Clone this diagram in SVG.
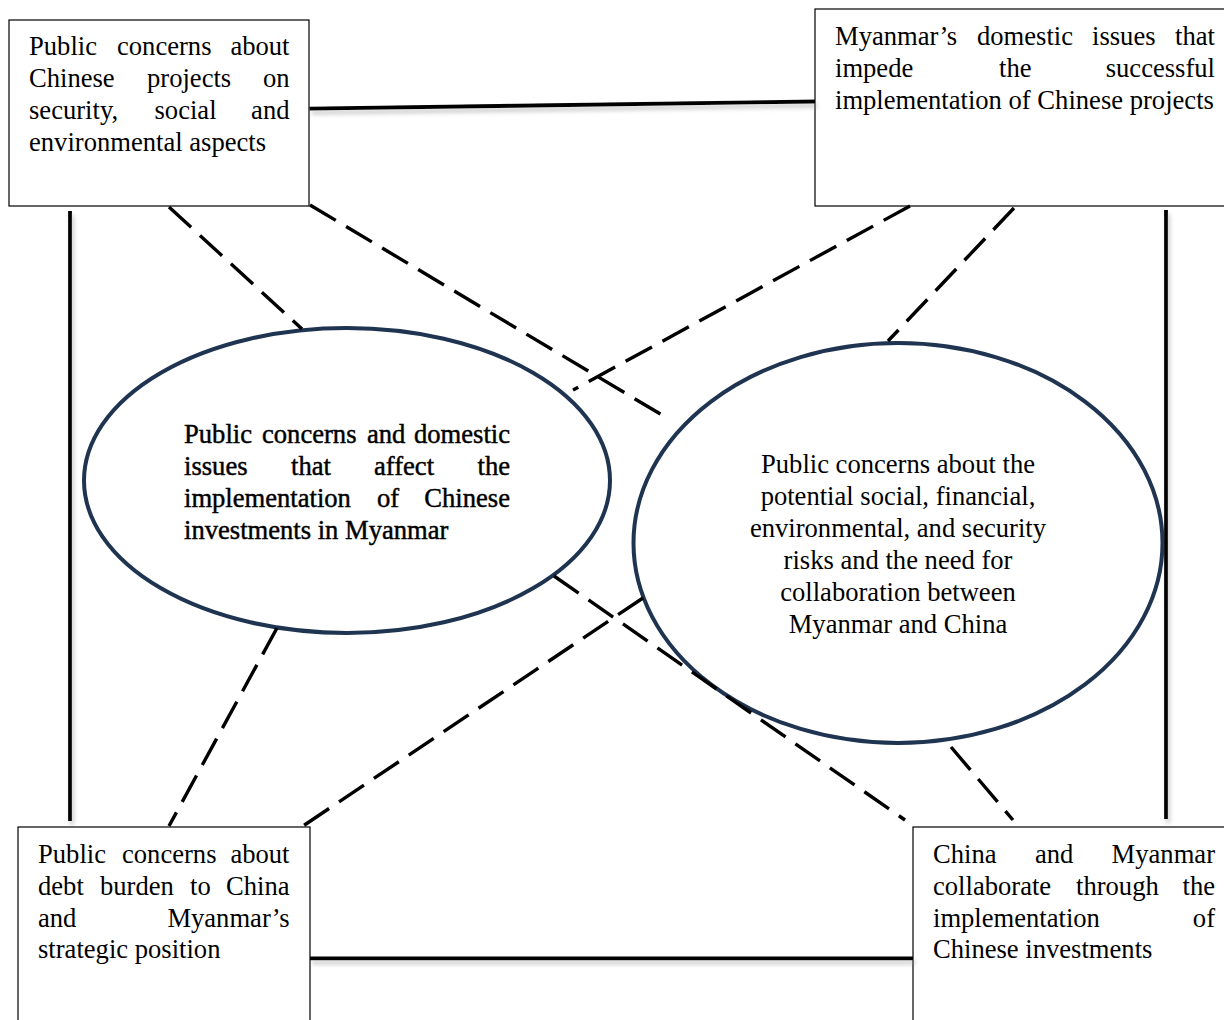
<svg xmlns="http://www.w3.org/2000/svg" width="1224" height="1020" viewBox="0 0 1224 1020">
<defs>
<style>
.t{font-family:"Liberation Serif","Times New Roman",serif;font-size:26.6px;fill:#000}
.bold{stroke:#000;stroke-width:0.45}
.box{fill:#fff;stroke:#000;stroke-width:1.2}
.ell{fill:#fff;stroke:#1f3450;stroke-width:4}
.solid{stroke:#000;stroke-width:3.8;fill:none;stroke-linecap:butt}
.dash{stroke:#000;stroke-width:3.4;fill:none;stroke-dasharray:30 12}
</style>
<filter id="sh" x="-10%" y="-50%" width="120%" height="300%">
<feDropShadow dx="2" dy="4" stdDeviation="2" flood-color="#888" flood-opacity="0.45"/>
</filter>
</defs>
<rect width="1224" height="1020" fill="#fff"/>

<g id="node-top-left">
<rect class="box" x="9" y="20" width="300" height="186"/>
<text class="t" y="55"><tspan x="29">Public</tspan><tspan x="117">concerns</tspan><tspan x="289.5" text-anchor="end">about</tspan></text>
<text class="t" y="87"><tspan x="29">Chinese</tspan><tspan x="147">projects</tspan><tspan x="289.5" text-anchor="end">on</tspan></text>
<text class="t" y="119"><tspan x="29">security,</tspan><tspan x="154.5">social</tspan><tspan x="289.5" text-anchor="end">and</tspan></text>
<text class="t" y="151" x="29">environmental aspects</text>
</g>

<g id="node-top-right">
<rect class="box" x="815" y="9" width="420" height="197"/>
<text class="t" y="45"><tspan x="835">Myanmar’s</tspan><tspan x="977">domestic</tspan><tspan x="1092">issues</tspan><tspan x="1215" text-anchor="end">that</tspan></text>
<text class="t" y="77"><tspan x="835">impede</tspan><tspan x="999">the</tspan><tspan x="1215" text-anchor="end">successful</tspan></text>
<text class="t" y="109" x="835">implementation of Chinese projects</text>
</g>

<g id="node-bottom-left">
<rect class="box" x="18" y="827" width="292" height="210"/>
<text class="t" y="863"><tspan x="38">Public</tspan><tspan x="122">concerns</tspan><tspan x="289.5" text-anchor="end">about</tspan></text>
<text class="t" y="895"><tspan x="38">debt</tspan><tspan x="100">burden</tspan><tspan x="190">to</tspan><tspan x="289.5" text-anchor="end">China</tspan></text>
<text class="t" y="927"><tspan x="38">and</tspan><tspan x="289.5" text-anchor="end">Myanmar’s</tspan></text>
<text class="t" y="958" x="38">strategic position</text>
</g>

<g id="node-bottom-right">
<rect class="box" x="913" y="827" width="330" height="210"/>
<text class="t" y="863"><tspan x="933">China</tspan><tspan x="1035">and</tspan><tspan x="1215" text-anchor="end">Myanmar</tspan></text>
<text class="t" y="895"><tspan x="933">collaborate</tspan><tspan x="1076">through</tspan><tspan x="1215" text-anchor="end">the</tspan></text>
<text class="t" y="927"><tspan x="933">implementation</tspan><tspan x="1215" text-anchor="end">of</tspan></text>
<text class="t" y="958" x="933">Chinese investments</text>
</g>

<g id="node-ellipse-left">
<ellipse class="ell" cx="347" cy="480.5" rx="263" ry="152.5"/>
<text class="t bold" y="443"><tspan x="184">Public</tspan><tspan x="262">concerns</tspan><tspan x="367">and</tspan><tspan x="510" text-anchor="end">domestic</tspan></text>
<text class="t bold" y="475"><tspan x="184">issues</tspan><tspan x="291">that</tspan><tspan x="374">affect</tspan><tspan x="510" text-anchor="end">the</tspan></text>
<text class="t bold" y="507"><tspan x="184">implementation</tspan><tspan x="377">of</tspan><tspan x="510" text-anchor="end">Chinese</tspan></text>
<text class="t bold" y="539" x="184">investments in Myanmar</text>
</g>

<g id="node-ellipse-right">
<ellipse class="ell" cx="898" cy="543" rx="264.5" ry="200"/>
<text class="t" text-anchor="middle" x="898" y="473">Public concerns about the</text>
<text class="t" text-anchor="middle" x="898" y="505">potential social, financial,</text>
<text class="t" text-anchor="middle" x="898" y="537">environmental, and security</text>
<text class="t" text-anchor="middle" x="898" y="569">risks and the need for</text>
<text class="t" text-anchor="middle" x="898" y="601">collaboration between</text>
<text class="t" text-anchor="middle" x="898" y="633">Myanmar and China</text>
</g>

<g id="connectors">
<g filter="url(#sh)">
<line class="solid" x1="309.5" y1="108.7" x2="815" y2="101.5"/>
<line class="solid" x1="310" y1="958.3" x2="913" y2="958.3"/>
<line class="solid" x1="70" y1="211" x2="70" y2="821"/>
<line class="solid" x1="1166" y1="210" x2="1166" y2="819"/>
</g>
<line class="dash" x1="169" y1="207" x2="302" y2="329"/>
<line class="dash" x1="310" y1="205" x2="662" y2="415"/>
<line class="dash" x1="910" y1="206" x2="573" y2="390"/>
<line class="dash" x1="1014" y1="208" x2="888" y2="341"/>
<line class="dash" x1="277" y1="628" x2="169" y2="826"/>
<line class="dash" x1="643" y1="598" x2="303" y2="826"/>
<line class="dash" x1="554" y1="576" x2="905" y2="820"/>
<line class="dash" x1="951" y1="747" x2="1013" y2="820"/>
</g>
</svg>
